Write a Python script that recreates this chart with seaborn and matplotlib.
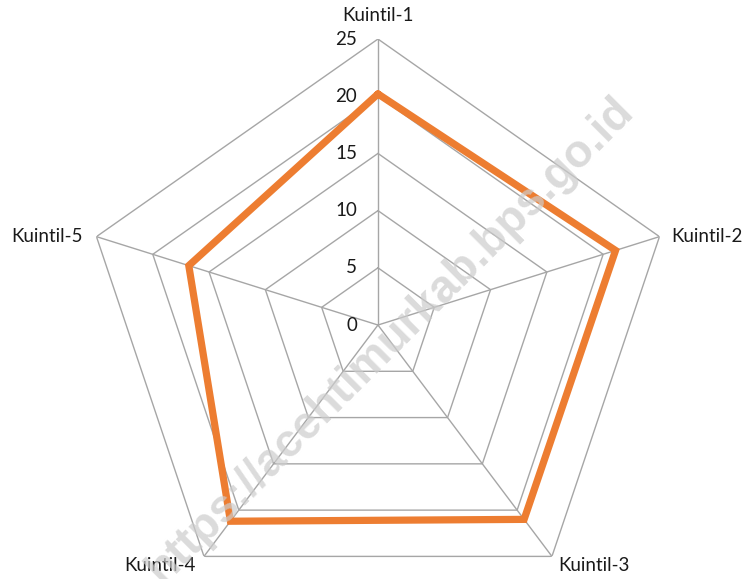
import numpy as np
import pandas as pd
import matplotlib
matplotlib.use("Agg")
import matplotlib.pyplot as plt
import matplotlib.transforms as mtransforms
import seaborn as sns

# --- DATA ---------------------------------------------------------------------

categories = ["Kuintil-1", "Kuintil-2", "Kuintil-3", "Kuintil-4", "Kuintil-5"]
values = [20.2, 21.1, 21.0, 21.2, 16.8]
ring_levels = [0, 5, 10, 15, 20, 25]
watermark = "https://acehtimurkab.bps.go.id"

# --- STYLE --------------------------------------------------------------------

sns.set_theme(style="white")
plt.rcParams["font.family"] = ["Lato", "DejaVu Sans"]

ORANGE = "#ED7D31"
GRID = "#a6a6a6"
TEXT = "#1a1a1a"

n = len(categories)
angles = np.linspace(0, 2 * np.pi, n, endpoint=False)
rmax = ring_levels[-1]

fig = plt.figure(figsize=(7.5, 5.79), dpi=100)
ax = fig.add_axes([0.1093, -0.0553, 0.7893, 0.9879], projection="polar")
ax.set_theta_offset(np.pi / 2)
ax.set_theta_direction(-1)
ax.set_ylim(0, rmax)
ax.set_aspect("auto")
ax.grid(False)
ax.spines["polar"].set_visible(False)
ax.set_xticks([])
ax.set_yticks([])
ax.patch.set_alpha(0)

# pentagon grid + spokes
closed_angles = np.append(angles, angles[0])
for lev in ring_levels[1:]:
    ax.plot(closed_angles, [lev] * (n + 1), color=GRID, lw=1.0, zorder=1)
for a in angles:
    ax.plot([a, a], [0, rmax], color=GRID, lw=1.0, zorder=1)

# data line
df = pd.DataFrame({"theta": np.append(angles, angles[0]),
                   "value": values + [values[0]]})
sns.lineplot(data=df, x="theta", y="value", sort=False, estimator=None,
             color=ORANGE, linewidth=5.2, ax=ax, zorder=3)
ax.lines[-1].set_solid_joinstyle("miter")
ax.set_xlabel("")
ax.set_ylabel("")
ax.set_ylim(0, rmax)

# radial tick labels, left of the top spoke
tick_tr = mtransforms.offset_copy(ax.transData, fig=fig, x=-21, y=0, units="dots")
for lev in ring_levels:
    ax.text(0, lev, str(lev), transform=tick_tr, ha="right", va="center",
            fontsize=13.5, color=TEXT)

# category labels
label_offsets = [(0, 24, "center"), (12, 0, "left"), (6, -9, "left"),
                 (-8, -9, "right"), (-14, 0, "right")]
for a, lab, (dx, dy, ha) in zip(angles, categories, label_offsets):
    tr = mtransforms.offset_copy(ax.transData, fig=fig, x=dx, y=dy, units="dots")
    ax.text(a, rmax, lab, transform=tr, ha=ha, va="center",
            fontsize=13.5, color=TEXT)

# watermark
fig.text(390 / 750, 1 - 340 / 579, watermark, rotation=45, ha="center",
         va="center", fontsize=33, fontweight="bold", color="#cccccc",
         alpha=0.7, family=["Liberation Sans", "DejaVu Sans"], zorder=0)

fig.savefig("out.png", dpi=100)
